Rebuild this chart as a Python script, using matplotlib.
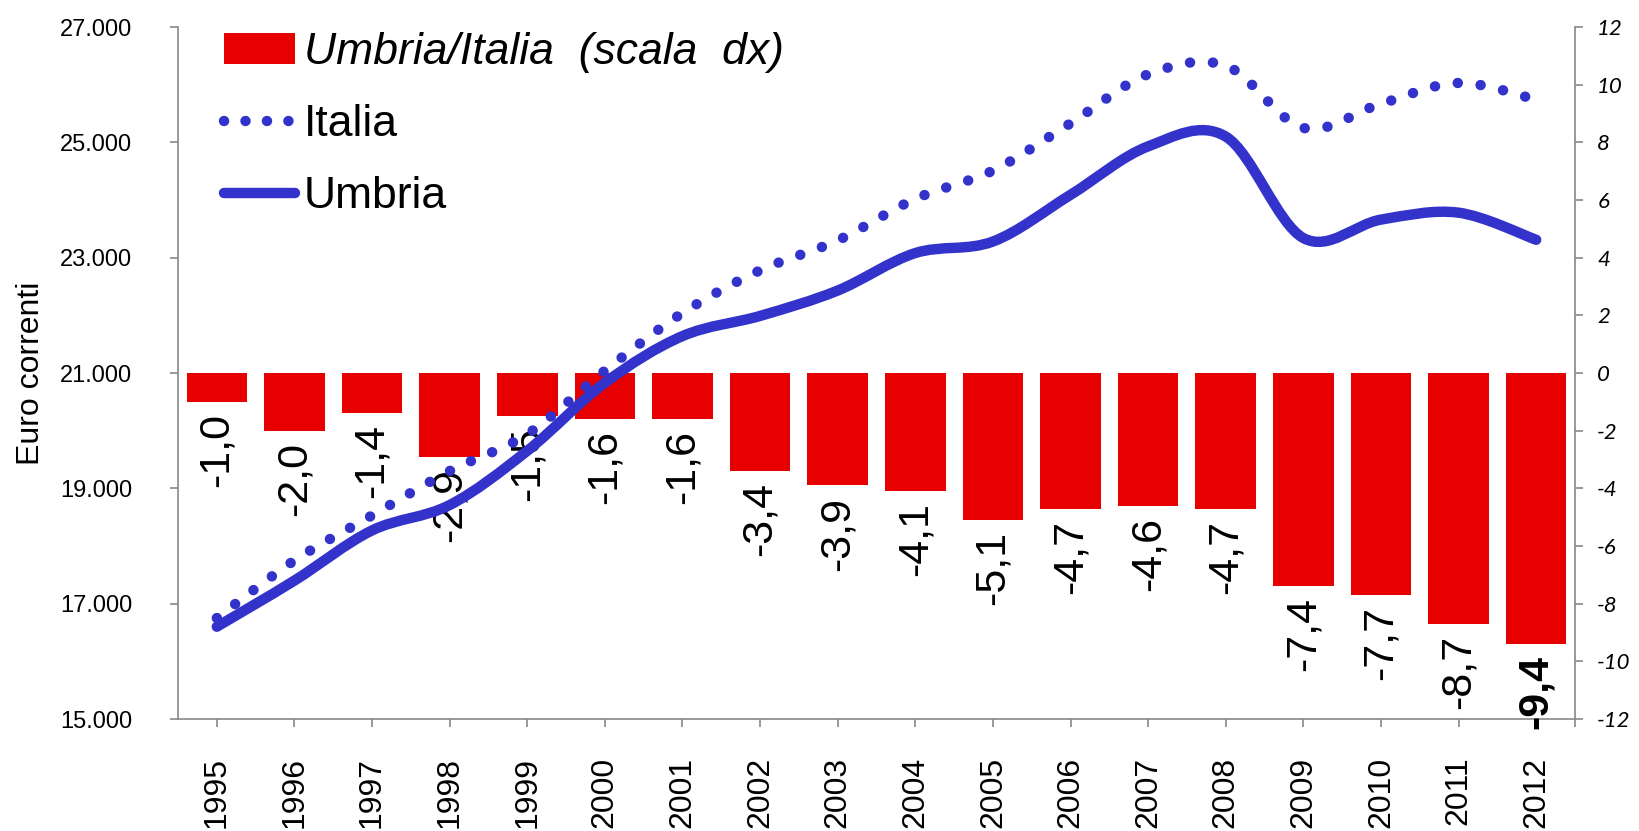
import numpy as np
import matplotlib
matplotlib.use("Agg")
import matplotlib.pyplot as plt
from matplotlib.path import Path
from matplotlib.patches import PathPatch, Patch
from matplotlib.lines import Line2D

# ---- data ----
years = [str(y) for y in range(1995, 2013)]
italia = [16750, 17750, 18530, 19300, 19940, 21040, 22040, 22780, 23300,
          24020, 24510, 25330, 26180, 26330, 25250, 25670, 26030, 25740]
umbria = [16600, 17400, 18270, 18710, 19650, 20830, 21640, 21990, 22430,
          23080, 23280, 24090, 24930, 25100, 23340, 23660, 23780, 23310]
ratio = [-1.0, -2.0, -1.4, -2.9, -1.5, -1.6, -1.6, -3.4, -3.9,
         -4.1, -5.1, -4.7, -4.6, -4.7, -7.4, -7.7, -8.7, -9.4]
left_ticks = [15000, 17000, 19000, 21000, 23000, 25000, 27000]
right_ticks = [-12, -10, -8, -6, -4, -2, 0, 2, 4, 6, 8, 10, 12]
legend_labels = ["Umbria/Italia  (scala  dx)", "Italia", "Umbria"]
ylabel = "Euro correnti"

RED = "#E60000"
BLUE = "#3333CC"
GREY = "#888888"
FONT = "Liberation Sans"

plt.rcParams["font.family"] = [FONT, "DejaVu Sans"]

fig = plt.figure(figsize=(16.4, 8.31), dpi=100)
ax = fig.add_axes([178 / 1640, 1 - 719 / 831, (1575 - 178) / 1640, (719 - 27) / 831])
ax2 = ax.twinx()

x = np.arange(len(years))

# bars (right scale) on host axes -> behind lines
ax.bar(x, ratio, width=0.78, color=RED, zorder=2)
ax.set_ylim(-12, 12)
ax.set_xlim(-0.5, len(years) - 0.5)

for i, v in enumerate(ratio):
    lab = f"{v:.1f}".replace(".", ",")
    bold = (i == len(ratio) - 1)
    ax.annotate(lab, (x[i], v), xytext=(0, -8), textcoords="offset points",
                rotation=90, ha="center", va="top", fontsize=31,
                fontweight="bold" if bold else "normal", color="black",
                annotation_clip=False, zorder=3)


def smooth_path(xs, ys):
    pts = np.column_stack([xs, ys]).astype(float)
    verts = [pts[0]]
    codes = [Path.MOVETO]
    n = len(pts)
    for i in range(n - 1):
        p0 = pts[i - 1] if i > 0 else pts[i]
        p1 = pts[i]
        p2 = pts[i + 1]
        p3 = pts[i + 2] if i + 2 < n else pts[i + 1]
        c1 = p1 + (p2 - p0) / 6.0
        c2 = p2 - (p3 - p1) / 6.0
        verts += [c1, c2, p2]
        codes += [Path.CURVE4] * 3
    return Path(verts, codes)


DOTS = (0, (0.01, 2.2))
ax2.set_ylim(15000, 27000)
p_it = PathPatch(smooth_path(x, italia), fill=False, edgecolor=BLUE,
                 linewidth=7.5, linestyle=DOTS, capstyle="round", zorder=4)
p_um = PathPatch(smooth_path(x, umbria), fill=False, edgecolor=BLUE,
                 linewidth=7.5, capstyle="round", joinstyle="round", zorder=5)
ax2.add_patch(p_it)
ax2.add_patch(p_um)

# axes layout: right scale on host, left scale on twin
ax.yaxis.tick_right()
ax.yaxis.set_label_position("right")
ax2.yaxis.tick_left()
ax2.yaxis.set_label_position("left")

for s in ["top", "left"]:
    ax.spines[s].set_visible(False)
for s in ["right", "bottom"]:
    ax.spines[s].set_color(GREY)
    ax.spines[s].set_linewidth(1.2)
for s in ["top", "right", "bottom"]:
    ax2.spines[s].set_visible(False)
ax2.spines["left"].set_color(GREY)
ax2.spines["left"].set_linewidth(1.2)

ax.set_xticks(x)
ax.set_xticklabels(years, rotation=90, fontsize=23, va="top", ha="center")
ax.set_xticks([len(years) - 0.5], minor=True)
ax.tick_params(axis="x", which="both", direction="out", length=6, width=1.2,
               color=GREY, pad=21)

ax.set_yticks(right_ticks)
ax.set_yticklabels([str(t) for t in right_ticks], fontstyle="italic",
                   family="Lato", fontsize=16)
ax.tick_params(axis="y", direction="out", length=6, width=1.2, color=GREY, pad=10)

ax2.set_yticks(left_ticks)
ax2.set_yticklabels([f"{t:,}".replace(",", ".") for t in left_ticks], fontsize=17)
ax2.tick_params(axis="y", direction="out", length=6, width=1.2, color=GREY, pad=27)
ax2.set_ylabel(ylabel, fontsize=23, labelpad=10)

# legend
handles = [
    Patch(facecolor=RED, edgecolor="none"),
    Line2D([], [], color=BLUE, linewidth=7.5, linestyle=(0, (0.01, 2.05)),
           dash_capstyle="round"),
    Line2D([], [], color=BLUE, linewidth=7.5, solid_capstyle="round"),
]
leg = ax2.legend(handles, legend_labels, loc="upper left",
                 bbox_to_anchor=(224 / 1640, 1 - 32 / 831),
                 bbox_transform=fig.transFigure, frameon=False, fontsize=32,
                 handlelength=1.6, handletextpad=0.2, labelspacing=0.7,
                 borderpad=0, borderaxespad=0, handleheight=0.7)
leg.get_texts()[0].set_fontstyle("italic")

fig.savefig("out.png", dpi=100)
